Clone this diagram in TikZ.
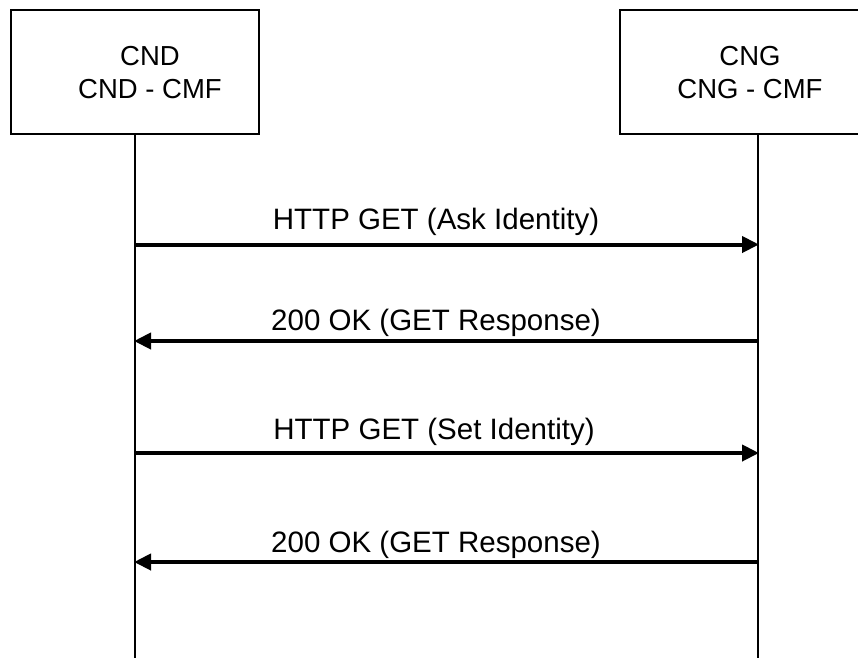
\documentclass[tikz,border=0pt]{standalone}
\usepackage{fontspec}
\setmainfont{Liberation Sans}
\usetikzlibrary{arrows.meta}
\begin{document}
\begin{tikzpicture}[x=1pt,y=-1pt,
  entity/.style={draw=black,line width=2pt,minimum height=124pt,inner sep=0pt},
  etext/.style={font=\fontsize{27.5}{33}\selectfont,align=center,inner sep=0pt},
  life/.style={draw=black,line width=2pt},
  msg/.style={draw=black,line width=4pt,-{Triangle[length=17pt,width=16pt]},shorten >=-1pt},
  mlabel/.style={font=\fontsize{29.5}{33}\selectfont,anchor=base,inner sep=0pt}]
\clip (0,0) rectangle (858,657);
\fill[white] (0,0) rectangle (858,657);
% entities
\node[entity,minimum width=248pt] (cnd) at (135,72) {};
\node[etext] (cndt) at ([xshift=15pt,yshift=-1pt]cnd.center) {CND\\CND - CMF};
\node[entity,minimum width=276pt] (cng) at (758,72) {};
\node[etext] (cngt) at ([xshift=-8pt,yshift=-1pt]cng.center) {CNG\\CNG - CMF};
% lifeline ends
\coordinate (cndb) at (135,660);
\coordinate (cngb) at (758,660);
\draw[life] (cnd.south) -- (cndb);
\draw[life] (cng.south) -- (cngb);
% message points
\coordinate (m1a) at (135,244.5);
\coordinate (m1b) at (758,244.5);
\coordinate (m2a) at (135,341);
\coordinate (m2b) at (758,341);
\coordinate (m3a) at (135,453);
\coordinate (m3b) at (758,453);
\coordinate (m4a) at (135,562);
\coordinate (m4b) at (758,562);
\draw[msg] (m1a) -- (m1b);
\draw[msg] (m2b) -- (m2a);
\draw[msg] (m3a) -- (m3b);
\draw[msg] (m4b) -- (m4a);
\node[mlabel] (l1) at (436,229) {HTTP GET (Ask Identity)};
\node[mlabel] (l2) at (436,330) {200 OK (GET Response)};
\node[mlabel] (l3) at (434,439) {HTTP GET (Set Identity)};
\node[mlabel] (l4) at (436,552) {200 OK (GET Response)};
\end{tikzpicture}
\end{document}
